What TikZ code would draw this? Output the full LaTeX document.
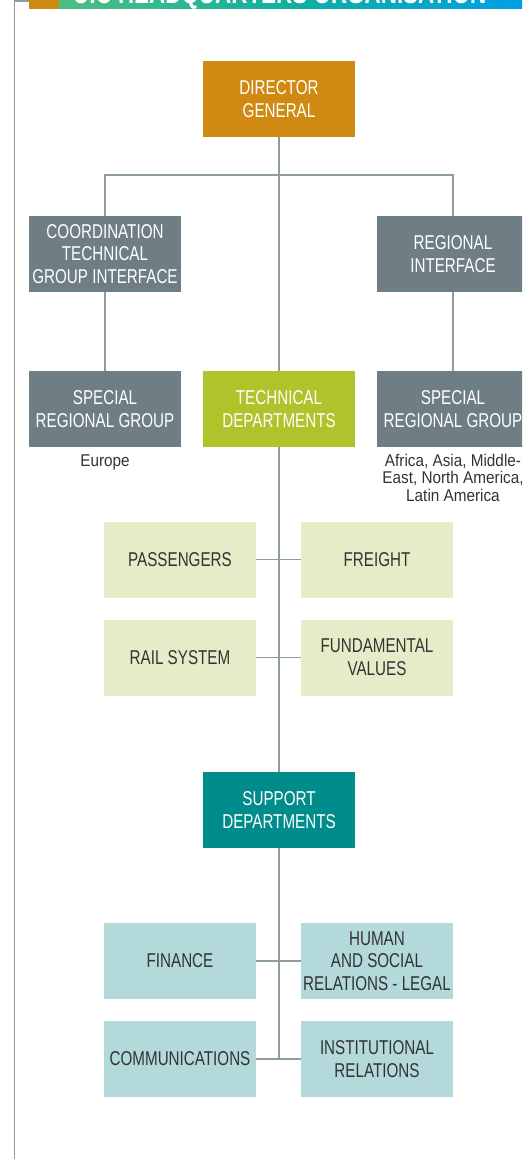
\documentclass[tikz,border=0pt]{standalone}
\usepackage{fontspec}
\setmainfont{Liberation Sans}[FakeStretch=0.76]
\newfontfamily\capfont{Liberation Sans}[FakeStretch=0.9]
\usetikzlibrary{backgrounds}
\definecolor{dgorange}{HTML}{D08A12}
\definecolor{slate}{HTML}{6E7E84}
\definecolor{techgreen}{HTML}{AFC42A}
\definecolor{lightgreen}{HTML}{E6ECC7}
\definecolor{supteal}{HTML}{008C8A}
\definecolor{lightteal}{HTML}{B3D9DA}
\definecolor{linegray}{HTML}{8C9C9F}
\definecolor{txtdark}{HTML}{333333}
\definecolor{gradA}{HTML}{4DBE84}
\definecolor{gradB}{HTML}{10AFA0}
\definecolor{gradC}{HTML}{009FE3}
\tikzset{
  box/.style={minimum width=152pt, minimum height=76pt, inner sep=0pt, align=center,
    font=\fontsize{20}{22.7}\selectfont},
  darkbox/.style={box, fill=slate, text=white},
  orangebox/.style={box, fill=dgorange, text=white},
  techbox/.style={box, fill=techgreen, text=white},
  supbox/.style={box, fill=supteal, text=white},
  lgbox/.style={box, fill=lightgreen, text=txtdark},
  ltbox/.style={box, fill=lightteal, text=txtdark},
  conn/.style={draw=linegray, line width=1.5pt},
  caption/.style={align=center, text=txtdark, inner sep=0pt, font=\capfont\fontsize{17}{17.8}\selectfont}
}
\begin{document}
\begin{tikzpicture}[x=1pt, y=-1pt]
\useasboundingbox (0,0) rectangle (522,1159);
\clip (0,0) rectangle (522,1159);
% header
\shade[left color=gradA, right color=gradC, middle color=gradB] (59,0) rectangle (522,8.5);
\fill[dgorange] (29,0) rectangle (59,8.5);
\node[anchor=base west, inner sep=0pt, text=white, font=\fontsize{29.5}{29.5}\bfseries\selectfont] (title) at (73,3) {UIC HEADQUARTERS ORGANISATION};
\draw[conn] (14.5,1159) -- (14.5,1) -- (29,1);
% boxes
\node[orangebox] (dg) at (279,99) {DIRECTOR\\GENERAL};
\node[darkbox] (ctg) at (105,254) {COORDINATION\\TECHNICAL\\GROUP INTERFACE};
\node[darkbox] (ri) at (453,254) {REGIONAL\\INTERFACE};
\node[darkbox] (srgl) at (105,409) {SPECIAL\\REGIONAL GROUP};
\node[techbox] (td) at (279,409) {TECHNICAL\\DEPARTMENTS};
\node[darkbox] (srgr) at (453,409) {SPECIAL\\REGIONAL GROUP};
\node[caption, anchor=north] (eu) at (105,454.5) {Europe};
\node[caption, anchor=north] (af) at (453,453.5) {Africa, Asia, Middle-\\East, North America,\\Latin America};
\node[lgbox] (pass) at (180,559.5) {PASSENGERS};
\node[lgbox] (frt) at (377,559.5) {FREIGHT};
\node[lgbox] (rail) at (180,657.5) {RAIL SYSTEM};
\node[lgbox] (fund) at (377,657.5) {FUNDAMENTAL\\VALUES};
\node[supbox] (sd) at (279,810) {SUPPORT\\DEPARTMENTS};
\node[ltbox] (fin) at (180,961) {FINANCE};
\node[ltbox] (hum) at (377,961) {HUMAN\\AND SOCIAL\\RELATIONS - LEGAL};
\node[ltbox] (comm) at (180,1059) {COMMUNICATIONS};
\node[ltbox] (inst) at (377,1059) {INSTITUTIONAL\\RELATIONS};
% connectors
\begin{scope}[on background layer]
\coordinate (bus) at (279,175);
\coordinate (bottom) at (279,1059);
\draw[conn] (dg.south) -- (bottom);
\draw[conn] (ctg.north) |- (bus) -| (ri.north);
\draw[conn] (ctg.south) -- (srgl.north);
\draw[conn] (ri.south) -- (srgr.north);
\draw[conn] (pass.east) -- (frt.west);
\draw[conn] (rail.east) -- (fund.west);
\draw[conn] (fin.east) -- (hum.west);
\draw[conn] (comm.east) -- (inst.west);
\end{scope}
\end{tikzpicture}
\end{document}
